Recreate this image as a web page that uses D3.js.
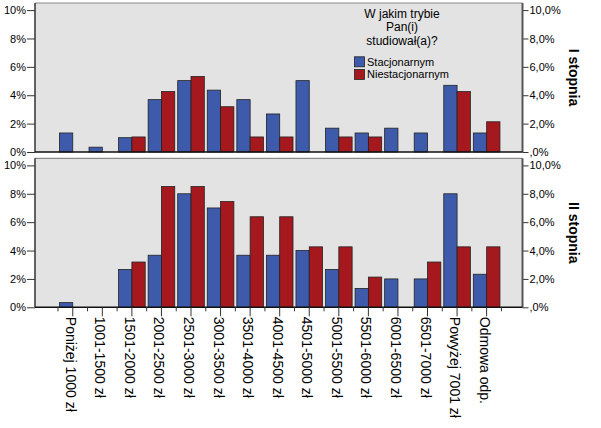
<!DOCTYPE html>
<html>
<head>
<meta charset="utf-8">
<script src="https://cdn.jsdelivr.net/npm/d3@7"></script>
<style>
    body { margin: 0; background: #fff; }
    text { font-family: "Liberation Sans", Arial, sans-serif; fill: #000; }
</style>
</head>
<body>
<div id="chart"></div>
<script>

// categories (income brackets)
let categories = ["Poniżej 1000 zł", "1001-1500 zł", "1501-2000 zł", "2001-2500 zł", "2501-3000 zł",
    "3001-3500 zł", "3501-4000 zł", "4001-4500 zł", "4501-5000 zł", "5001-5500 zł", "5501-6000 zł",
    "6001-6500 zł", "6501-7000 zł", "Powyżej 7001 zł", "Odmowa odp."];

let seriesNames = ["Stacjonarnym", "Niestacjonarnym"];

// I stopnia, values in %
let firstStacj = [1.34, 0.34, 1.01, 3.69, 5.03, 4.36, 3.69, 2.68, 5.03, 1.68, 1.34, 1.68, 1.34, 4.70, 1.34];
let firstNiest = [0, 0, 1.06, 4.26, 5.32, 3.19, 1.06, 1.06, 0, 1.06, 1.06, 0, 0, 4.26, 2.13];

// II stopnia, values in %
let secondStacj = [0.33, 0, 2.67, 3.67, 8.00, 7.00, 3.67, 3.67, 4.00, 2.67, 1.33, 2.00, 2.00, 8.00, 2.33];
let secondNiest = [0, 0, 3.19, 8.51, 8.51, 7.45, 6.38, 6.38, 4.26, 4.26, 2.13, 0, 3.19, 4.26, 4.26];

let leftTicks = [0, 2, 4, 6, 8, 10];
let rightTickLabels = [",0%", "2,0%", "4,0%", "6,0%", "8,0%", "10,0%"];

let legendTitle = ["W jakim trybie", "Pan(i)", "studiował(a)?"];

let panels = [
    {label: "I stopnia", values: [firstStacj, firstNiest], top: 3, bottom: 152},
    {label: "II stopnia", values: [secondStacj, secondNiest], top: 158.3, bottom: 307.3}
];

let colors = ["#3e5aab", "#a5191e"];

let width = 601, height = 428;
let plotLeft = 35, plotRight = 522.5;

let svg = d3.select("#chart").append("svg")
    .attr("width", width)
    .attr("height", height);

let x0 = d3.scaleBand()
    .domain(categories)
    .range([56.5, 502.9])
    .paddingInner(0.1)
    .paddingOuter(0.1);

let x1 = d3.scaleBand()
    .domain([0, 1])
    .range([0, x0.bandwidth()]);

panels.forEach((p, pi) => {
    let y = d3.scaleLinear()
        .domain([0, 10.5])
        .range([p.bottom, p.top]);

    let g = svg.append("g").attr("class", "panel");

    // background
    g.append("rect")
        .attr("x", plotLeft)
        .attr("y", p.top)
        .attr("width", plotRight - plotLeft)
        .attr("height", p.bottom - p.top)
        .attr("fill", "#e3e3e3")
        .attr("stroke", "none");

    // top border
    g.append("line")
        .attr("x1", plotLeft).attr("x2", plotRight)
        .attr("y1", p.top).attr("y2", p.top)
        .attr("stroke", "#8a8a8a")
        .attr("stroke-width", 1.2);

    // bars
    categories.forEach((c, ci) => {
        p.values.forEach((series, si) => {
            let v = series[ci];
            if (v <= 0) return;
            g.append("rect")
                .attr("x", x0(c) + x1(si))
                .attr("y", y(v))
                .attr("width", x1.bandwidth())
                .attr("height", y(0) - y(v))
                .attr("fill", colors[si])
                .attr("stroke", "#222")
                .attr("stroke-width", 0.8);
        });
    });

    // left axis
    let leftAxis = d3.axisLeft(y)
        .tickValues(leftTicks)
        .tickSize(8)
        .tickPadding(1)
        .tickFormat(d => d + "%");
    let la = g.append("g")
        .attr("transform", `translate(${plotLeft},0)`)
        .call(leftAxis);
    la.select(".domain").remove();
    la.append("line")
        .attr("x1", 0).attr("x2", 0)
        .attr("y1", p.top).attr("y2", p.bottom)
        .attr("stroke", "#333")
        .attr("stroke-width", 1.5);

    // right axis
    let rightAxis = d3.axisRight(y)
        .tickValues(leftTicks)
        .tickSize(6)
        .tickPadding(1)
        .tickFormat((d, i) => rightTickLabels[i]);
    let ra = g.append("g")
        .attr("transform", `translate(${plotRight},0)`)
        .call(rightAxis);
    ra.select(".domain").remove();
    ra.append("line")
        .attr("x1", 0).attr("x2", 0)
        .attr("y1", p.top).attr("y2", p.bottom)
        .attr("stroke", "#555")
        .attr("stroke-width", 2);

    [la, ra].forEach(a => {
        a.selectAll(".tick line").attr("stroke", "#333");
        a.selectAll(".tick text")
            .style("font-family", '"Liberation Sans", Arial, sans-serif')
            .style("font-size", "11px")
            .attr("fill", "#000");
    });

    // bottom line
    g.append("line")
        .attr("x1", plotLeft).attr("x2", plotRight)
        .attr("y1", p.bottom).attr("y2", p.bottom)
        .attr("stroke", "#111")
        .attr("stroke-width", 1.5);

    // panel label
    g.append("text")
        .attr("transform", `translate(569,${(p.top + p.bottom) / 2}) rotate(90)`)
        .attr("text-anchor", "middle")
        .style("font-size", "14px")
        .style("font-weight", "bold")
        .text(p.label);

    // x axis only on the last panel
    if (pi === panels.length - 1) {
        let xa = g.append("g").attr("class", "x-axis");

        // minor ticks at band boundaries
        let step = x0.step();
        let bounds = categories.map(c => x0(c) + x0.bandwidth() / 2 - step / 2);
        bounds.push(x0(categories[categories.length - 1]) + x0.bandwidth() / 2 + step / 2);
        xa.selectAll(".minor")
            .data(bounds)
            .enter().append("line")
            .attr("class", "minor")
            .attr("x1", d => d).attr("x2", d => d)
            .attr("y1", p.bottom).attr("y2", p.bottom + 4)
            .attr("stroke", "#333");

        let ticks = xa.selectAll(".xtick")
            .data(categories)
            .enter().append("g")
            .attr("class", "xtick")
            .attr("transform", d => `translate(${x0(d) + x0.bandwidth() / 2},${p.bottom})`);

        ticks.append("line")
            .attr("y1", 0).attr("y2", 9)
            .attr("stroke", "#333");

        ticks.append("text")
            .attr("transform", "translate(0,9.5) rotate(90)")
            .attr("x", 0)
            .attr("dy", "0.5em")
            .attr("text-anchor", "start")
            .style("font-size", "14px")
            .text(d => d);
    }
});

// legend
let legend = svg.append("g").attr("class", "legend");

legendTitle.forEach((t, i) => {
    legend.append("text")
        .attr("x", 402)
        .attr("y", 17.5 + i * 13.5)
        .attr("text-anchor", "middle")
        .style("font-size", "12px")
        .text(t);
});

seriesNames.forEach((s, i) => {
    legend.append("rect")
        .attr("x", 354.5)
        .attr("y", 56.8 + i * 12.6)
        .attr("width", 10)
        .attr("height", 10)
        .attr("fill", colors[i])
        .attr("stroke", "#222")
        .attr("stroke-width", 0.8);
    legend.append("text")
        .attr("x", 367)
        .attr("y", 65.8 + i * 12.3)
        .style("font-size", "11px")
        .text(s);
});

</script>
</body>
</html>
